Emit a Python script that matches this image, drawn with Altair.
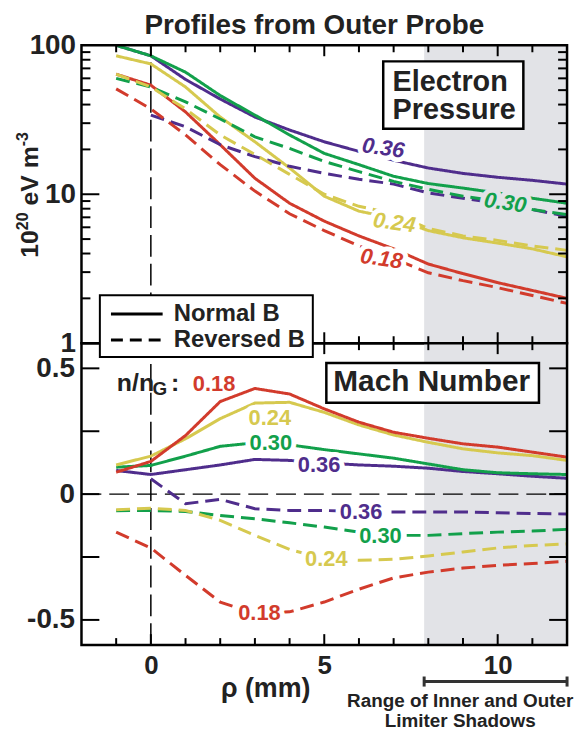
import altair as alt
import pandas as pd

F = "Liberation Sans"
INK = "#222222"
PURPLE = "#4f2d8c"
GREEN = "#12a04b"
YELLOW = "#d6c94f"
RED = "#d23b2c"
GRAY = "#e2e3e7"

W = 489
H_TOP = 300
H_BOT = 304

# ---------------- data ----------------
X = list(range(-1, 13))
DENS = ["0.18", "0.24", "0.30", "0.36"]
DENS_COLORS = [RED, YELLOW, GREEN, PURPLE]

pressure_normal = {
    "0.36": [100, 85, 59, 43.6, 33, 27, 22.5, 19.4, 16.9, 15, 13.8, 13, 12.4, 11.7],
    "0.30": [100, 85, 66, 46, 34, 25, 18.8, 15.8, 13.2, 11.8, 11, 10.2, 9.4, 8.7],
    "0.24": [85, 75, 52.5, 33, 22.5, 15, 9.7, 7.7, 6.9, 5.7, 5.1, 4.7, 4.3, 3.8],
    "0.18": [64, 54, 35.7, 21.5, 12.8, 8.7, 6.6, 5.25, 4.3, 3.4, 2.93, 2.55, 2.26, 2.0],
}
pressure_reversed = {
    "0.36": [None, 34, 28.4, 21.5, 17.9, 15.4, 13.8, 12.6, 11.7, 10.2, 9.4, 8.7, 7.9, 7.1],
    "0.30": [60, 52.5, 41.7, 32, 24.3, 20.3, 16.6, 14.2, 12.2, 10.8, 9.7, 9.0, 7.9, 7.3],
    "0.24": [64, 52.5, 37.4, 25, 18.5, 13.6, 10, 8.3, 7.4, 5.9, 5.25, 4.9, 4.5, 4.2],
    "0.18": [51, 37.4, 25, 15.8, 10.5, 7.4, 5.7, 4.5, 3.7, 2.97, 2.63, 2.36, 2.09, 1.85],
}
mach_normal = {
    "0.36": [0.094, 0.078, 0.097, 0.116, 0.138, 0.134, 0.124, 0.116, 0.111, 0.103, 0.09, 0.081, 0.071, 0.063],
    "0.30": [0.107, 0.114, 0.151, 0.19, 0.204, 0.196, 0.177, 0.16, 0.143, 0.12, 0.097, 0.085, 0.081, 0.078],
    "0.24": [0.116, 0.151, 0.22, 0.3, 0.362, 0.365, 0.325, 0.275, 0.235, 0.206, 0.18, 0.164, 0.153, 0.134],
    "0.18": [0.087, 0.13, 0.233, 0.368, 0.42, 0.398, 0.339, 0.286, 0.246, 0.222, 0.2, 0.187, 0.167, 0.147],
}
mach_reversed = {
    "0.36": [None, 0.061, -0.038, -0.021, -0.058, -0.065, -0.065, -0.069, -0.071, -0.071, -0.071, -0.074, -0.077, -0.079],
    "0.30": [-0.066, -0.065, -0.069, -0.085, -0.098, -0.114, -0.131, -0.151, -0.164, -0.164, -0.157, -0.151, -0.147, -0.14],
    "0.24": [-0.062, -0.056, -0.065, -0.104, -0.164, -0.22, -0.257, -0.263, -0.259, -0.246, -0.23, -0.214, -0.204, -0.198],
    "0.18": [-0.151, -0.214, -0.323, -0.429, -0.475, -0.468, -0.429, -0.378, -0.333, -0.31, -0.294, -0.283, -0.276, -0.267],
}

# inline labels: x, y, text, colour, halo colour
top_lab_x = [6.7, 10.22, 7.02, 6.65]
top_lab_y = [20.4, 8.75, 6.44, 3.69]
top_lab_t = ["0.36", "0.30", "0.24", "0.18"]
top_lab_c = [PURPLE, GREEN, YELLOW, RED]
top_lab_h = ["white", GRAY, "white", "white"]

bot_lab_x = [3.43, 3.46, 4.85, 6.06, 6.62, 5.06, 3.13]
bot_lab_y = [0.303, 0.204, 0.114, -0.071, -0.167, -0.257, -0.471]
bot_lab_t = ["0.24", "0.30", "0.36", "0.36", "0.30", "0.24", "0.18"]
bot_lab_c = [YELLOW, GREEN, PURPLE, PURPLE, GREEN, YELLOW, RED]

SHADOW = [7.88, 12]

TITLE = "Profiles from Outer Probe"

# y-axis title of the top panel, piece by piece (text, size, pixel offset along, raised?)
ytitle_t = ["10", "20", "eV m", "-3"]
ytitle_s = [25, 16, 25, 16]
ytitle_pos = [214, 186.2, 161.4, 101.7]
ytitle_sup = [False, True, False, True]


def long_df(normal, reversed_):
    rows = []
    for name, dct in [("Normal B", normal), ("Reversed B", reversed_)]:
        for d, vals in dct.items():
            for x, v in zip(X, vals):
                if v is not None:
                    rows.append({"x": x, "y": v, "dens": d, "field": name})
    return pd.DataFrame(rows)


press_df = long_df(pressure_normal, pressure_reversed)
mach_df = long_df(mach_normal, mach_reversed)
one = pd.DataFrame({"k": [0]})

xs = alt.Scale(domain=[-2, 12], nice=False, zero=False)
ys_top = alt.Scale(type="log", domain=[1, 100], nice=False)
ys_bot = alt.Scale(domain=[-0.6, 0.6], nice=False, zero=False)

bot_xaxis = alt.Axis(values=[0, 5, 10], title="ρ (mm)", ticks=False, tickSize=0, domain=False, grid=False,
                     labelFont=F, labelFontSize=26, labelFontWeight="bold", labelColor=INK, labelPadding=8,
                     labelFlush=False,
                     titleFont=F, titleFontSize=27, titleFontWeight="bold", titleColor=INK,
                     titleX=185, titleY=44, titleBaseline="middle", titleAlign="center")
top_yaxis = alt.Axis(values=[1, 10, 100], format="d", title=None, ticks=False, tickSize=0,
                     domain=False, grid=False,
                     labelFont=F, labelFontSize=28, labelFontWeight="bold", labelColor=INK, labelPadding=6)
bot_yaxis = alt.Axis(values=[-0.5, 0, 0.5], title=None, ticks=False, tickSize=0, domain=False, grid=False,
                     labelExpr="datum.value > 0.1 ? '0.5' : (datum.value < -0.1 ? '-0.5' : '0')",
                     labelFont=F, labelFontSize=28, labelFontWeight="bold", labelColor=INK, labelPadding=7)


def panel_enc(top):
    xa = None if top else bot_xaxis
    ya = top_yaxis if top else bot_yaxis
    ysc = ys_top if top else ys_bot

    def xe(f="x"):
        return alt.X(f + ":Q", scale=xs, axis=xa)

    def x2e(f):
        return alt.X2(f + ":Q")

    def ye(f="y"):
        return alt.Y(f + ":Q", scale=ysc, axis=ya)

    def y2e(f):
        return alt.Y2(f + ":Q")
    return xe, x2e, ye, y2e


def ticks(xe, ye, height, x_major, x_minor, y_major, y_minor, xl=(11, 7), yl=(18, 9)):
    layers = []
    for vals, L in [(x_major, xl[0]), (x_minor, xl[1])]:
        df = pd.DataFrame({"x": vals})
        base = alt.Chart(df).mark_rule(color="black", strokeWidth=2)
        layers.append(base.encode(x=xe(), y=alt.value(0), y2=alt.value(L)))
        layers.append(base.encode(x=xe(), y=alt.value(height - L), y2=alt.value(height)))
    for vals, L in [(y_major, yl[0]), (y_minor, yl[1])]:
        if not vals:
            continue
        df = pd.DataFrame({"y": vals})
        base = alt.Chart(df).mark_rule(color="black", strokeWidth=2)
        layers.append(base.encode(y=ye(), x=alt.value(0), x2=alt.value(L)))
        layers.append(base.encode(y=ye(), x=alt.value(W - L), x2=alt.value(W)))
    return layers


def frame(height):
    return alt.Chart(one).mark_rect(fillOpacity=0, stroke="black", strokeWidth=2.5).encode(
        x=alt.value(0), x2=alt.value(W), y=alt.value(0), y2=alt.value(height))


color_enc = alt.Color("dens:N", scale=alt.Scale(domain=DENS, range=DENS_COLORS), legend=None)
dash_enc = alt.StrokeDash("field:N", scale=alt.Scale(domain=["Normal B", "Reversed B"],
                                                     range=[[1, 0], [14, 7]]), legend=None)


def labels(xe, ye, df, size, italic=False, angle=0):
    kw = dict(font=F, fontSize=size, fontWeight="bold", align="center", baseline="middle", angle=angle)
    if italic:
        kw["fontStyle"] = "italic"
    halo = alt.Chart(df).mark_text(strokeWidth=10, strokeJoin="round", **kw).encode(
        x=xe(), y=ye(), text="t:N",
        color=alt.Color("h:N", scale=None), stroke=alt.Stroke("h:N", scale=None))
    txt = alt.Chart(df).mark_text(**kw).encode(
        x=xe(), y=ye(), text="t:N", color=alt.Color("c:N", scale=None))
    return [halo, txt]


XMAJ = [0, 5, 10]
XMIN = [v for v in range(-1, 12) if v not in XMAJ]

# ---------------- top panel ----------------
xe, x2e, ye, y2e = panel_enc(True)
shade_top = alt.Chart(pd.DataFrame({"x": [SHADOW[0]], "x2": [SHADOW[1]], "y": [1], "y2": [100]})).mark_rect(
    color=GRAY).encode(x=xe(), x2=x2e("x2"), y=ye(), y2=y2e("y2"))
vline_top = alt.Chart(pd.DataFrame({"x": [0], "y": [1], "y2": [100]})).mark_rule(
    color="black", strokeWidth=1.5, strokeDash=[22, 7]).encode(x=xe(), y=ye(), y2=y2e("y2"))
lines_top = alt.Chart(press_df).mark_line(strokeWidth=3, clip=True).encode(
    x=xe(), y=ye(), color=color_enc, strokeDash=dash_enc)
top_lab_df = pd.DataFrame({"x": top_lab_x, "y": top_lab_y, "t": top_lab_t, "c": top_lab_c, "h": top_lab_h})
ebox = alt.Chart(pd.DataFrame({"x": [6.7], "x2": [10.74], "y": [78], "y2": [27.5]})).mark_rect(
    fill="white", stroke="black", strokeWidth=2.5).encode(x=xe(), x2=x2e("x2"), y=ye(), y2=y2e("y2"))
etext = alt.Chart(pd.DataFrame({"x": [6.97, 6.97], "y": [56.7, 36.9], "t": ["Electron", "Pressure"]})).mark_text(
    font=F, fontSize=29, fontWeight="bold", align="left", baseline="middle", color=INK).encode(
    x=xe(), y=ye(), text="t:N")

ytitle_layers = []
for t, s, p, sup in zip(ytitle_t, ytitle_s, ytitle_pos, ytitle_sup):
    ytitle_layers.append(
        alt.Chart(one).mark_text(text=t, font=F, fontSize=s, fontWeight="bold", color=INK, angle=270,
                                 align="left", baseline="alphabetic").encode(
            x=alt.value(-54 if sup else -44), y=alt.value(p)))

title_mark = alt.Chart(one).mark_text(text=TITLE, font=F, fontSize=28, fontWeight="bold", color=INK,
                                      align="center", baseline="alphabetic").encode(
    x=alt.value(W / 2 - 10), y=alt.value(-11))

top_minor = [v * m for m in (1, 10) for v in range(2, 10)]
top = alt.layer(
    shade_top, vline_top, lines_top,
    *labels(xe, ye, top_lab_df, 22, italic=True, angle=8),
    ebox, etext,
    *ticks(xe, ye, H_TOP, XMAJ, XMIN, [10], top_minor),
    frame(H_TOP),
    *ytitle_layers,
    title_mark,
).properties(width=W, height=H_TOP)

# ---------------- bottom panel ----------------
xe, x2e, ye, y2e = panel_enc(False)
shade_bot = alt.Chart(pd.DataFrame({"x": [SHADOW[0]], "x2": [SHADOW[1]], "y": [-0.6], "y2": [0.6]})).mark_rect(
    color=GRAY).encode(x=xe(), x2=x2e("x2"), y=ye(), y2=y2e("y2"))
vline_bot = alt.Chart(pd.DataFrame({"x": [0], "y": [-0.6], "y2": [0.6]})).mark_rule(
    color="black", strokeWidth=1.5, strokeDash=[22, 7]).encode(x=xe(), y=ye(), y2=y2e("y2"))
hline_bot = alt.Chart(pd.DataFrame({"x": [-2], "x2": [12], "y": [0]})).mark_rule(
    color="black", strokeWidth=1.5, strokeDash=[20, 8]).encode(x=xe(), x2=x2e("x2"), y=ye())
lines_bot = alt.Chart(mach_df).mark_line(strokeWidth=3, clip=True).encode(
    x=xe(), y=ye(), color=color_enc, strokeDash=dash_enc)
bot_lab_df = pd.DataFrame({"x": bot_lab_x, "y": bot_lab_y, "t": bot_lab_t, "c": bot_lab_c,
                           "h": ["white"] * len(bot_lab_x)})
mbox = alt.Chart(pd.DataFrame({"x": [5.06], "x2": [11.19], "y": [0.521], "y2": [0.363]})).mark_rect(
    fill="white", stroke="black", strokeWidth=2.5).encode(x=xe(), x2=x2e("x2"), y=ye(), y2=y2e("y2"))
mtext = alt.Chart(pd.DataFrame({"x": [5.26], "y": [0.447], "t": ["Mach Number"]})).mark_text(
    font=F, fontSize=30, fontWeight="bold", align="left", baseline="middle", color=INK).encode(
    x=xe(), y=ye(), text="t:N")

nng_df = pd.DataFrame({"x": [-0.98, 0.05, 0.58, 1.21], "y": [0.41, 0.394, 0.41, 0.41],
                       "t": ["n/n", "G", ":", "0.18"], "s": [25, 19, 25, 22],
                       "c": [INK, INK, INK, RED]})
nng = alt.Chart(nng_df).mark_text(font=F, fontWeight="bold", align="left", baseline="alphabetic").encode(
    x=xe(), y=ye(), text="t:N", size=alt.Size("s:Q", scale=None, legend=None),
    color=alt.Color("c:N", scale=None))

# legend (drawn by hand, straddles both panels)
leg_box = alt.Chart(pd.DataFrame({"x": [-1.47], "x2": [4.67], "y": [0.791], "y2": [0.545]})).mark_rect(
    fill="white", stroke="black", strokeWidth=2).encode(x=xe(), x2=x2e("x2"), y=ye(), y2=y2e("y2"))
leg_solid = alt.Chart(pd.DataFrame({"x": [-1.15], "x2": [0.34], "y": [0.716]})).mark_rule(
    color="black", strokeWidth=3).encode(x=xe(), x2=x2e("x2"), y=ye())
leg_dash = alt.Chart(pd.DataFrame({"x": [-1.15], "x2": [0.34], "y": [0.613]})).mark_rule(
    color="black", strokeWidth=3, strokeDash=[12, 7]).encode(x=xe(), x2=x2e("x2"), y=ye())
leg_text = alt.Chart(pd.DataFrame({"x": [0.66, 0.66], "y": [0.716, 0.613],
                                   "t": ["Normal B", "Reversed B"]})).mark_text(
    font=F, fontSize=24, fontWeight="bold", align="left", baseline="middle", color=INK).encode(
    x=xe(), y=ye(), text="t:N")

# limiter-shadow range annotation under the axis
rng_bar = alt.Chart(pd.DataFrame({"x": [SHADOW[0]], "x2": [SHADOW[1]], "y": [-0.745]})).mark_rule(
    color="#333333", strokeWidth=3).encode(x=xe(), x2=x2e("x2"), y=ye())
rng_caps = alt.Chart(pd.DataFrame({"x": SHADOW, "y": [-0.725, -0.725], "y2": [-0.765, -0.765]})).mark_rule(
    color="#333333", strokeWidth=3).encode(x=xe(), y=ye(), y2=y2e("y2"))
rng_text = alt.Chart(pd.DataFrame({"x": [8.92, 8.92], "y": [-0.823, -0.902],
                                   "t": ["Range of Inner and Outer", "Limiter Shadows"]})).mark_text(
    font=F, fontSize=19, fontWeight="bold", align="center", baseline="middle", color=INK).encode(
    x=xe(), y=ye(), text="t:N")

bottom = alt.layer(
    shade_bot, vline_bot, hline_bot, lines_bot,
    *labels(xe, ye, bot_lab_df, 22),
    mbox, mtext, nng,
    *ticks(xe, ye, H_BOT, XMAJ, XMIN, [-0.5, -0.25, 0, 0.25, 0.5], []),
    frame(H_BOT),
    leg_box, leg_solid, leg_dash, leg_text,
    rng_bar, rng_caps, rng_text,
).properties(width=W, height=H_BOT)

chart = alt.vconcat(top, bottom, spacing=0, bounds="flush").properties(
    padding={"left": 7, "top": 2, "right": 0, "bottom": 0}
).configure_view(stroke=None)

chart.save("out.html", embed_options={"renderer": "svg", "actions": False})
